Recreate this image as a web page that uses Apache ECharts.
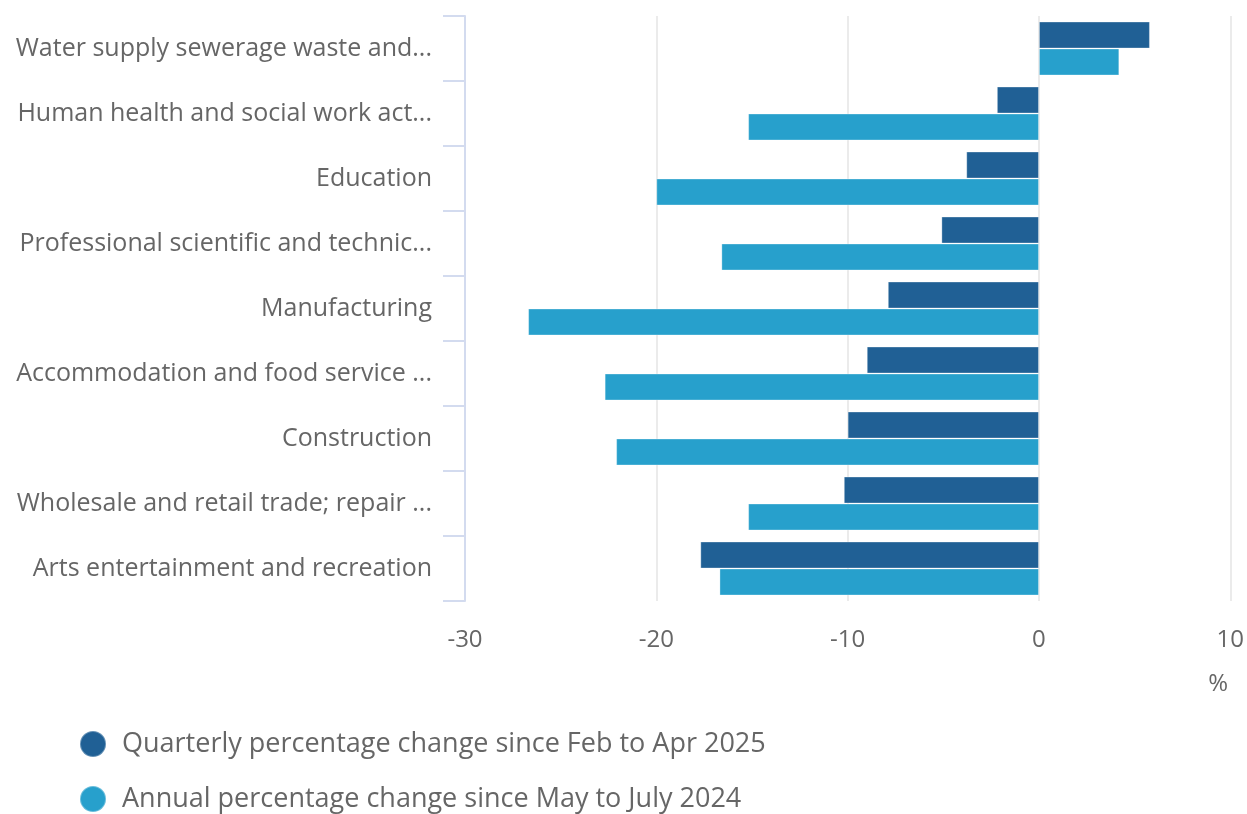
<!DOCTYPE html>
<html>
<head>
<meta charset="utf-8">
<script src="https://cdn.jsdelivr.net/npm/echarts@6/dist/echarts.min.js"></script>
<style>html,body{margin:0;padding:0;background:#fff}#c{width:1247px;height:814px}</style>
</head>
<body>
<div id="c"></div>
<script>
const categories = [
  "Water supply sewerage waste and...",
  "Human health and social work act...",
  "Education",
  "Professional scientific and technic...",
  "Manufacturing",
  "Accommodation and food service ...",
  "Construction",
  "Wholesale and retail trade; repair ...",
  "Arts entertainment and recreation"
];
const quarterly = [5.8, -2.2, -3.8, -5.1, -7.9, -9.0, -10.0, -10.2, -17.7];
const annual = [4.2, -15.2, -20.0, -16.6, -26.7, -22.7, -22.1, -15.2, -16.7];
const seriesNames = ["Quarterly percentage change since Feb to Apr 2025", "Annual percentage change since May to July 2024"];
const xTicks = { min: -30, max: 10, interval: 10 };

const FONT = '"Open Sans", sans-serif';
const legendBase = {
  orient: 'vertical', left: 79, itemWidth: 26, itemHeight: 26, padding: 0,
  icon: 'circle', selectedMode: false,
  textStyle: { fontSize: 27, color: '#666', fontFamily: FONT, padding: [0, 0, 0, 11] }
};
const chart = echarts.init(document.getElementById('c'), null, { renderer: 'canvas' });
chart.setOption({
  animation: false,
  textStyle: { fontFamily: FONT },
  grid: { left: 465, right: 12, top: 16, bottom: 213, containLabel: false },
  xAxis: {
    type: 'value', min: xTicks.min, max: xTicks.max, interval: xTicks.interval,
    axisLine: { show: false }, axisTick: { show: false },
    splitLine: { lineStyle: { color: '#ebebeb', width: 2 } },
    axisLabel: { fontSize: 24, color: '#666', margin: 27, fontFamily: FONT },
    name: '%', nameLocation: 'end', nameGap: -12,
    nameTextStyle: { fontSize: 24, color: '#666', fontFamily: FONT, align: 'center', verticalAlign: 'top', padding: [71, 0, 0, 0] }
  },
  yAxis: {
    type: 'category', data: categories, inverse: true,
    axisLine: { show: true, onZero: false, lineStyle: { color: '#d3dbef', width: 2 } },
    axisTick: { show: true, length: 22, lineStyle: { color: '#d3dbef', width: 2 } },
    axisLabel: { fontSize: 25, color: '#666', margin: 33, fontFamily: FONT, padding: [8, 0, 0, 0] },
    splitLine: { show: false }
  },
  legend: [
    Object.assign({}, legendBase, { top: 730, data: [seriesNames[0]] }),
    Object.assign({}, legendBase, { top: 785, data: [seriesNames[1]] })
  ],
  series: [
    { name: seriesNames[0], type: 'bar', data: quarterly, barGap: '0%', barCategoryGap: '17%',
      itemStyle: { color: '#206095', borderColor: 'rgba(255,255,255,0.3)', borderWidth: 1 } },
    { name: seriesNames[1], type: 'bar', data: annual, barGap: '0%', barCategoryGap: '17%',
      itemStyle: { color: '#27a0cc', borderColor: 'rgba(255,255,255,0.3)', borderWidth: 1 } }
  ]
});
</script>
</body>
</html>
